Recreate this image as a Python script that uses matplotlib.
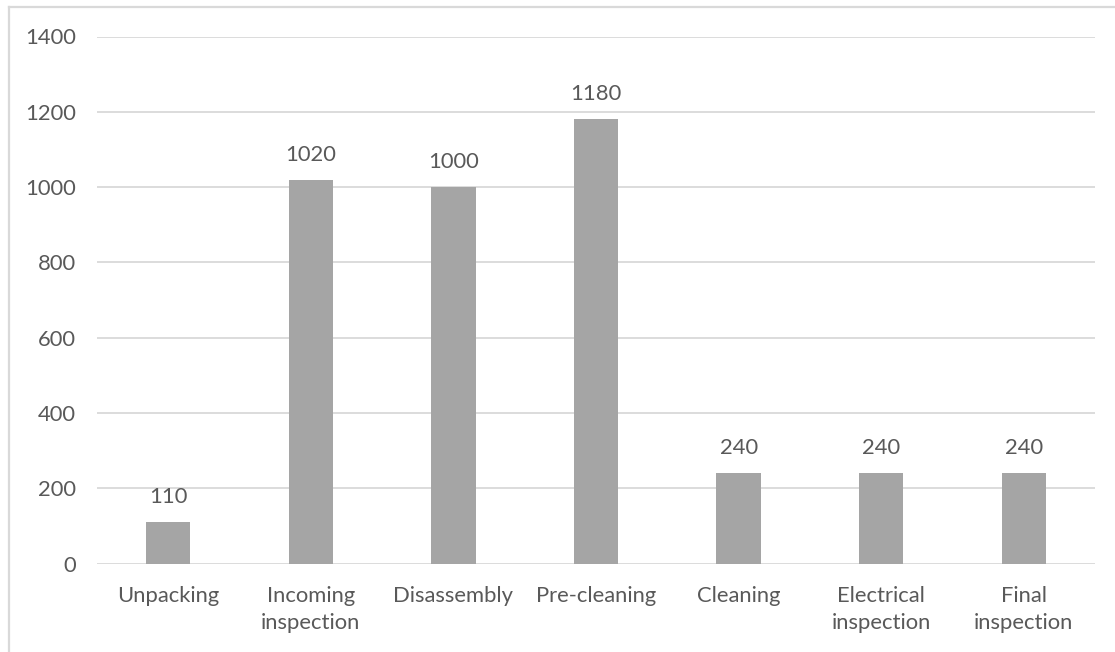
import matplotlib
matplotlib.use("Agg")
import matplotlib.pyplot as plt
from matplotlib.lines import Line2D

# Process steps and their durations
categories = ["Unpacking", "Incoming\ninspection", "Disassembly", "Pre-cleaning",
              "Cleaning", "Electrical\ninspection", "Final\ninspection"]
values = [110, 1020, 1000, 1180, 240, 240, 240]
y_ticks = [0, 200, 400, 600, 800, 1000, 1200, 1400]

text_color = "#595959"
bar_color = "#A5A5A5"
grid_color = "#D9D9D9"

plt.rcParams["font.family"] = ["Lato", "DejaVu Sans"]

fig = plt.figure(figsize=(11.15, 6.52), dpi=100)
ax = fig.add_axes([97 / 1115, 1 - 563.5 / 652, (1095 - 97) / 1115, (563.5 - 36.5) / 652])

x = range(len(categories))
bars = ax.bar(x, values, width=0.31, color=bar_color, zorder=3)

for xi, v in zip(x, values):
    ax.annotate(f"{v}", (xi, v), xytext=(0, 18), textcoords="offset points",
                ha="center", va="center", fontsize=15.8, color=text_color)

ax.set_xlim(-0.5, len(categories) - 0.5)
ax.set_ylim(0, 1400)
ax.set_yticks(y_ticks)
ax.set_xticks(list(x))
ax.set_xticklabels(categories, linespacing=1.45)
ax.tick_params(axis="both", length=0, labelsize=15.8, labelcolor=text_color)
ax.tick_params(axis="y", pad=15)
ax.tick_params(axis="x", pad=16)
ax.grid(axis="y", color=grid_color, linewidth=1.3, zorder=0)
for s in ax.spines.values():
    s.set_visible(False)

# Chart area outline (top and left edges)
fig.add_artist(Line2D([9 / 1115, 9 / 1115], [0, 1 - 7 / 652], transform=fig.transFigure,
                      color=grid_color, linewidth=1.6))
fig.add_artist(Line2D([9 / 1115, 1], [1 - 7 / 652, 1 - 7 / 652], transform=fig.transFigure,
                      color=grid_color, linewidth=1.6))

fig.savefig("out.png", dpi=100)
